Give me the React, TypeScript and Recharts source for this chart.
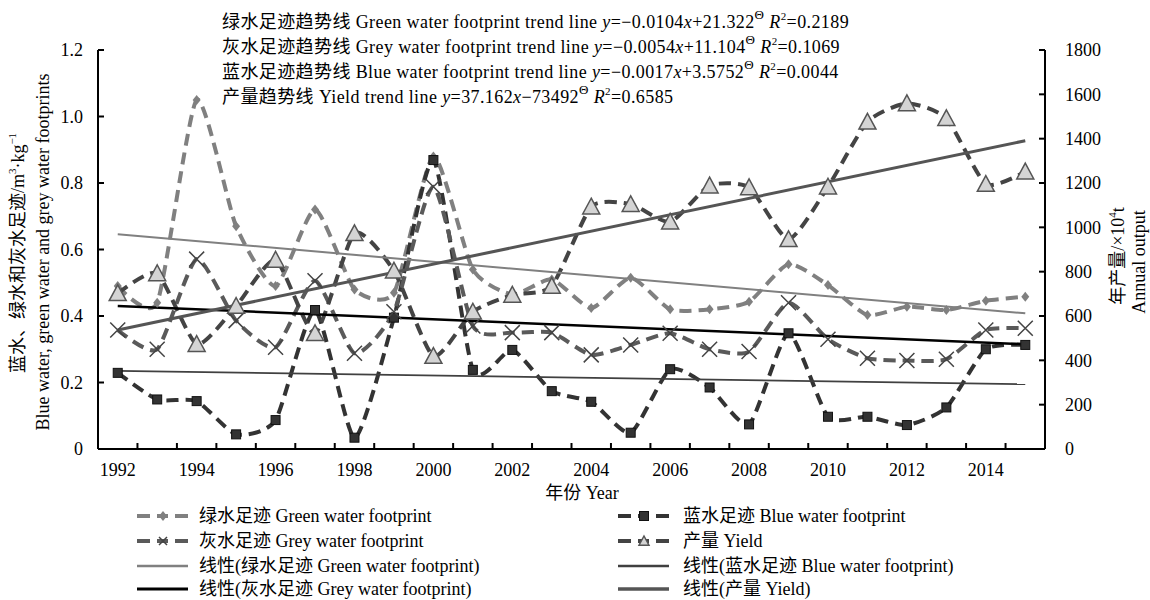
import React from "react";
import { Line, LineChart, XAxis, YAxis } from "recharts";

const years = [
  1992, 1993, 1994, 1995, 1996, 1997, 1998, 1999, 2000, 2001, 2002, 2003,
  2004, 2005, 2006, 2007, 2008, 2009, 2010, 2011, 2012, 2013, 2014, 2015,
];
const greenFootprint = [
  0.49, 0.44, 1.05, 0.67, 0.49, 0.72, 0.48, 0.47, 0.88, 0.54, 0.465, 0.51,
  0.424, 0.515, 0.42, 0.42, 0.443, 0.556, 0.493, 0.403, 0.428, 0.418, 0.446,
  0.458,
];
const blueFootprint = [
  0.229, 0.149, 0.144, 0.044, 0.087, 0.418, 0.034, 0.395, 0.869, 0.238, 0.298,
  0.174, 0.142, 0.049, 0.24, 0.185, 0.074, 0.348, 0.097, 0.097, 0.072, 0.125,
  0.3, 0.313,
];
const greyFootprint = [
  0.358, 0.3, 0.571, 0.386, 0.306, 0.506, 0.288, 0.413, 0.789, 0.37, 0.35, 0.35,
  0.283, 0.313, 0.348, 0.3, 0.293, 0.44, 0.33, 0.273, 0.266, 0.27, 0.358, 0.363,
];
const yieldOutput = [
  702, 792, 473, 645, 853, 522, 973, 804, 419, 619, 695, 735, 1093, 1104, 1025,
  1188, 1180, 946, 1183, 1476, 1559, 1492, 1195, 1251,
];

// trend lines: value at the first and the last year
const greenTrendEnds = [0.646, 0.408];
const greyTrendEnds = [0.43, 0.315];
const blueTrendEnds = [0.235, 0.195];
const yieldTrendEnds = [537, 1391];

const leftTicks = [0, 0.2, 0.4, 0.6, 0.8, 1.0, 1.2];
const rightTicks = [0, 200, 400, 600, 800, 1000, 1200, 1400, 1600, 1800];
// whole years carry the labels, half years carry the tick marks
const xTicks = years.flatMap((y) => (y < 2015 ? [y, y + 0.5] : [y]));

const trendNotes = [
  { zh: "绿水足迹趋势线", en: "Green water footprint trend line", a: "=−0.0104", b: "+21.322", r2: "=0.2189" },
  { zh: "灰水足迹趋势线", en: "Grey water footprint trend line", a: "=−0.0054", b: "+11.104", r2: "=0.1069" },
  { zh: "蓝水足迹趋势线", en: "Blue water footprint trend line", a: "=−0.0017", b: "+3.5752", r2: "=0.0044" },
  { zh: "产量趋势线", en: "Yield trend line", a: "=37.162", b: "−73492", r2: "=0.6585" },
];

const FONT = "'Liberation Serif', 'Noto Sans CJK SC', serif";
const DASH = "12 7";

const last = years.length - 1;
const ends = (pair: number[], i: number) =>
  i === 0 ? pair[0] : i === last ? pair[1] : null;

const data = years.map((year, i) => ({
  year,
  green: greenFootprint[i],
  blue: blueFootprint[i],
  grey: greyFootprint[i],
  yield: yieldOutput[i],
  greenTrend: ends(greenTrendEnds, i),
  greyTrend: ends(greyTrendEnds, i),
  blueTrend: ends(blueTrendEnds, i),
  yieldTrend: ends(yieldTrendEnds, i),
}));

// Excel-like smoothed line (cardinal spline with a low tangent factor)
class SmoothCurve {
  _context: any;
  _line = NaN;
  _point = 0;
  _x0 = NaN;
  _x1 = NaN;
  _x2 = NaN;
  _y0 = NaN;
  _y1 = NaN;
  _y2 = NaN;
  _k = 0.1;
  constructor(context: any) {
    this._context = context;
  }
  areaStart() {
    this._line = 0;
  }
  areaEnd() {
    this._line = NaN;
  }
  lineStart() {
    this._x0 = this._x1 = this._x2 = this._y0 = this._y1 = this._y2 = NaN;
    this._point = 0;
  }
  lineEnd() {
    if (this._point === 2) this._context.lineTo(this._x2, this._y2);
    else if (this._point === 3) this.curve(this._x1, this._y1);
    if (this._line || (this._line !== 0 && this._point === 1)) this._context.closePath();
    this._line = 1 - this._line;
  }
  curve(x: number, y: number) {
    const k = this._k;
    this._context.bezierCurveTo(
      this._x1 + k * (this._x2 - this._x0),
      this._y1 + k * (this._y2 - this._y0),
      this._x2 + k * (this._x1 - x),
      this._y2 + k * (this._y1 - y),
      this._x2,
      this._y2,
    );
  }
  point(x: number, y: number) {
    x = +x;
    y = +y;
    if (this._point === 0) {
      this._point = 1;
      if (this._line) this._context.lineTo(x, y);
      else this._context.moveTo(x, y);
    } else if (this._point === 1) {
      this._point = 2;
      this._x1 = x;
      this._y1 = y;
    } else {
      if (this._point === 2) this._point = 3;
      this.curve(x, y);
    }
    this._x0 = this._x1;
    this._x1 = this._x2;
    this._x2 = x;
    this._y0 = this._y1;
    this._y1 = this._y2;
    this._y2 = y;
  }
}
const smooth: any = (context: any) => new SmoothCurve(context);

const diamond = (cx: number, cy: number, key?: any) => (
  <path key={key} d={`M${cx},${cy - 5}L${cx + 4},${cy}L${cx},${cy + 5}L${cx - 4},${cy}Z`} fill="#808080" />
);
const square = (cx: number, cy: number, key?: any) => (
  <rect key={key} x={cx - 4.5} y={cy - 4.5} width={9} height={9} fill="#333" stroke="#111" strokeWidth={1} />
);
const cross = (cx: number, cy: number, key?: any, s = 7.5) => (
  <path key={key} d={`M${cx - s},${cy - s}L${cx + s},${cy + s}M${cx - s},${cy + s}L${cx + s},${cy - s}`} stroke="#444" strokeWidth={1.5} />
);
const triangle = (cx: number, cy: number, key?: any, s = 8.5) => (
  <path key={key} d={`M${cx},${cy - s}L${cx + s},${cy + s * 0.85}L${cx - s},${cy + s * 0.85}Z`} fill="#d4d4d4" stroke="#555" strokeWidth={1.5} />
);

const textStyle = { fontFamily: FONT, fontSize: 18, fill: "#000" };

const YearTick = (props: any) => {
  const { x, y, payload } = props;
  const v = payload.value;
  if (Number.isInteger(v)) {
    if (v % 2 !== 0) return <g />;
    return (
      <text x={x} y={y + 27} textAnchor="middle" style={textStyle}>
        {v}
      </text>
    );
  }
  return <line x1={x} x2={x} y1={y} y2={y - 6} stroke="#000" strokeWidth={2} />;
};

const LeftTick = (props: any) => {
  const { x, y, payload } = props;
  const v = payload.value as number;
  return (
    <text x={x} y={y} dy="0.355em" textAnchor="end" style={textStyle}>
      {v === 0 ? "0" : v.toFixed(1)}
    </text>
  );
};

const RightTick = (props: any) => {
  const { x, y, payload } = props;
  return (
    <text x={x} y={y} dy="0.355em" textAnchor="start" style={textStyle}>
      {payload.value}
    </text>
  );
};

const legendRows = [
  { x: 137, y: 516, label: "绿水足迹 Green water footprint", color: "#808080", marker: "diamond" },
  { x: 137, y: 541, label: "灰水足迹 Grey water footprint", color: "#5a5a5a", marker: "cross" },
  { x: 137, y: 566, label: "线性(绿水足迹 Green water footprint)", color: "#808080", width: 2.5 },
  { x: 137, y: 589, label: "线性(灰水足迹 Grey water footprint)", color: "#000", width: 3 },
  { x: 618, y: 516, label: "蓝水足迹 Blue water footprint", color: "#333", marker: "square" },
  { x: 618, y: 541, label: "产量 Yield", color: "#444", marker: "triangle" },
  { x: 618, y: 566, label: "线性(蓝水足迹 Blue water footprint)", color: "#404040", width: 2.5 },
  { x: 618, y: 589, label: "线性(产量 Yield)", color: "#555", width: 3.5 },
];

const legendMarker = (name: string, cx: number, cy: number) => {
  if (name === "diamond") return diamond(cx, cy);
  if (name === "square") return square(cx, cy);
  if (name === "cross") return cross(cx, cy, undefined, 4);
  return triangle(cx, cy, undefined, 5);
};

function Overlay() {
  return (
    <svg width={1150} height={600} style={{ position: "absolute", left: 0, top: 0, pointerEvents: "none", fontFamily: FONT }}>
      {trendNotes.map((n, i) => (
        <text key={n.zh} x={222} y={22 + i * 25} dominantBaseline="central" style={{ ...textStyle, letterSpacing: 0.4 }}>
          {n.zh} {n.en} <tspan fontStyle="italic">y</tspan>
          {n.a}
          <tspan fontStyle="italic">x</tspan>
          {n.b}
          <tspan fontSize={13} baselineShift="super">Θ</tspan> <tspan fontStyle="italic">R</tspan>
          <tspan fontSize={11} baselineShift="super">2</tspan>
          {n.r2}
        </text>
      ))}

      <text transform="translate(18,253) rotate(-90)" textAnchor="middle" dominantBaseline="central" style={textStyle}>
        蓝水、绿水和灰水足迹/m<tspan fontSize={11} baselineShift="super">3</tspan>·kg
        <tspan fontSize={11} baselineShift="super">−1</tspan>
      </text>
      <text transform="translate(43,252) rotate(-90)" textAnchor="middle" dominantBaseline="central" style={textStyle}>
        Blue water, green water and grey water footprints
      </text>
      <text transform="translate(1118,256) rotate(-90)" textAnchor="middle" dominantBaseline="central" style={textStyle}>
        年产量/×10<tspan fontSize={11} baselineShift="super">4</tspan>t
      </text>
      <text transform="translate(1139,262) rotate(-90)" textAnchor="middle" dominantBaseline="central" style={textStyle}>
        Annual output
      </text>

      <text x={582} y={493} textAnchor="middle" dominantBaseline="central" style={textStyle}>
        年份 Year
      </text>

      {legendRows.map((r) => (
        <g key={r.label}>
          {r.marker ? (
            <>
              <line x1={r.x} x2={r.x + 13} y1={r.y} y2={r.y} stroke={r.color} strokeWidth={4} />
              <line x1={r.x + 20} x2={r.x + 31} y1={r.y} y2={r.y} stroke={r.color} strokeWidth={4} />
              <line x1={r.x + 38} x2={r.x + 51} y1={r.y} y2={r.y} stroke={r.color} strokeWidth={4} />
              {legendMarker(r.marker, r.x + 26, r.y)}
            </>
          ) : (
            <line x1={r.x} x2={r.x + 51} y1={r.y} y2={r.y} stroke={r.color} strokeWidth={r.width} />
          )}
          <text x={r.x + (r.x < 400 ? 62 : 65)} y={r.y} dominantBaseline="central" style={textStyle}>
            {r.label}
          </text>
        </g>
      ))}
    </svg>
  );
}

export default function App() {
  const axisStyle = { stroke: "#000", strokeWidth: 2 };
  return (
    <div style={{ position: "absolute", left: 0, top: 0, width: 1150, height: 600, background: "#fff" }}>
      <LineChart
        width={1150}
        height={600}
        data={data}
        margin={{ top: 50, right: 45, bottom: 121, left: 38 }}
        style={{ fontFamily: FONT }}
      >
        <XAxis
          type="number"
          dataKey="year"
          domain={[1991.5, 2015.5]}
          ticks={xTicks}
          interval={0}
          height={30}
          tickSize={0}
          tickMargin={0}
          tickLine={false}
          axisLine={axisStyle}
          tick={YearTick}
        />
        <YAxis
          yAxisId="left"
          domain={[0, 1.2]}
          ticks={leftTicks}
          interval={0}
          width={60}
          tickSize={-6}
          tickMargin={21}
          axisLine={axisStyle}
          tickLine={axisStyle}
          tick={LeftTick}
        />
        <YAxis
          yAxisId="right"
          orientation="right"
          domain={[0, 1800]}
          ticks={rightTicks}
          interval={0}
          width={60}
          tickSize={-6}
          tickMargin={26}
          axisLine={axisStyle}
          tickLine={axisStyle}
          tick={RightTick}
        />

        <Line yAxisId="left" dataKey="green" type={smooth} stroke="#808080" strokeWidth={4} strokeDasharray={DASH}
          dot={(p: any) => diamond(p.cx, p.cy, `g${p.index}`)} isAnimationActive={false} />
        <Line yAxisId="left" dataKey="blue" type={smooth} stroke="#333" strokeWidth={4} strokeDasharray={DASH}
          dot={(p: any) => square(p.cx, p.cy, `b${p.index}`)} isAnimationActive={false} />
        <Line yAxisId="left" dataKey="grey" type={smooth} stroke="#5a5a5a" strokeWidth={4} strokeDasharray={DASH}
          dot={(p: any) => cross(p.cx, p.cy, `x${p.index}`)} isAnimationActive={false} />
        <Line yAxisId="right" dataKey="yield" type={smooth} stroke="#444" strokeWidth={4} strokeDasharray={DASH}
          dot={(p: any) => triangle(p.cx, p.cy, `t${p.index}`)} isAnimationActive={false} />

        <Line yAxisId="left" dataKey="greenTrend" type="linear" connectNulls stroke="#808080" strokeWidth={2} dot={false} isAnimationActive={false} />
        <Line yAxisId="left" dataKey="blueTrend" type="linear" connectNulls stroke="#404040" strokeWidth={1.8} dot={false} isAnimationActive={false} />
        <Line yAxisId="left" dataKey="greyTrend" type="linear" connectNulls stroke="#000" strokeWidth={2.5} dot={false} isAnimationActive={false} />
        <Line yAxisId="right" dataKey="yieldTrend" type="linear" connectNulls stroke="#555" strokeWidth={3} dot={false} isAnimationActive={false} />
      </LineChart>
      <Overlay />
    </div>
  );
}
